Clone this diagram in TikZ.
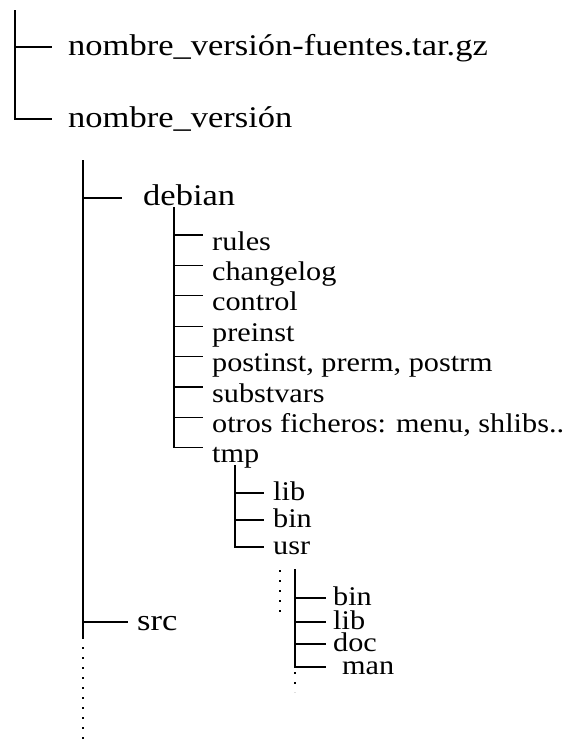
\documentclass[tikz,border=0pt]{standalone}
\usepackage{fontspec}
\setmainfont[FakeStretch=1.15]{Liberation Serif}
\newfontfamily\smallfam[FakeStretch=1.12]{Liberation Serif}
\begin{document}
\begin{tikzpicture}[x=1pt,y=-1pt,
  big/.style={font=\fontsize{30}{30}\selectfont, inner sep=0pt, anchor=base west},
  small/.style={font=\smallfam\fontsize{27}{27}\selectfont, inner sep=0pt, anchor=base west},
  ln/.style={line width=1.1pt},
  dotline/.style={line width=1.2pt, dash pattern=on 2pt off 8pt}]
\useasboundingbox (0,0) rectangle (577,744);
% level 0
\coordinate (v0) at (15,10);
\coordinate (b0a) at (52,47);
\coordinate (b0b) at (52,119);
\node[big] (n0a) at (68,55) {nombre\_versión-fuentes.tar.gz};
\node[big] (n0b) at (68,127) {nombre\_versión};
\draw[ln] (v0) |- (b0b);
\draw[ln] (v0 |- b0a) -- (b0a);
% level 1
\coordinate (v1) at (83,160);
\coordinate (v1e) at (83,637);
\coordinate (v1d) at (83,742);
\coordinate (b1a) at (122,198);
\coordinate (b1b) at (128,622);
\node[big] (deb) at (143,205) {debian};
\node[big] (src) at (137,630) {src};
\draw[ln] (v1) -- (v1e);
\draw[dotline] (v1e) -- (v1d);
\draw[ln] (v1 |- b1a) -- (b1a);
\draw[ln] (v1 |- b1b) -- (b1b);
% level 2 (debian)
\coordinate (v2) at (174,207);
\foreach \i/\t in {1/rules,2/changelog,3/control,4/preinst,5/{postinst, prerm, postrm},6/substvars,7/{otros ficheros: menu, shlibs..},8/tmp}{
  \coordinate (b2\i) at (203,{235+30.4*(\i-1)});
  \node[small] (r\i) at (212,{250+30.4*(\i-1)}) {\t};
}
\draw[ln] (v2) |- (b28);
\foreach \i in {1,...,7}{\draw[ln] (v2 |- b2\i) -- (b2\i);}
% level 3 (tmp)
\coordinate (v3) at (235,465);
\coordinate (b31) at (264,493);
\coordinate (b32) at (264,520);
\coordinate (b33) at (264,547);
\node[small] (t1) at (273,500) {lib};
\node[small] (t2) at (273,527) {bin};
\node[small] (t3) at (273,554) {usr};
\draw[ln] (v3) |- (b33);
\draw[ln] (v3 |- b31) -- (b31);
\draw[ln] (v3 |- b32) -- (b32);
% level 4 (usr)
\coordinate (v4d) at (280,570);
\coordinate (v4de) at (280,613);
\coordinate (v4) at (295,569);
\coordinate (b41) at (326,598);
\coordinate (b42) at (326,622);
\coordinate (b43) at (326,644);
\coordinate (b44) at (326,667);
\coordinate (v4e) at (295,692);
\node[small] (u1) at (333,605) {bin};
\node[small] (u2) at (333,629) {lib};
\node[small] (u3) at (333,651) {doc};
\node[small] (u4) at (342,674) {man};
\draw[dotline] (v4d) -- (v4de);
\draw[ln] (v4) |- (b44);
\draw[ln] (v4 |- b41) -- (b41);
\draw[ln] (v4 |- b42) -- (b42);
\draw[ln] (v4 |- b43) -- (b43);
\draw[dotline] (v4 |- b44) ++(0,5) -- (v4e);
\end{tikzpicture}
\end{document}
